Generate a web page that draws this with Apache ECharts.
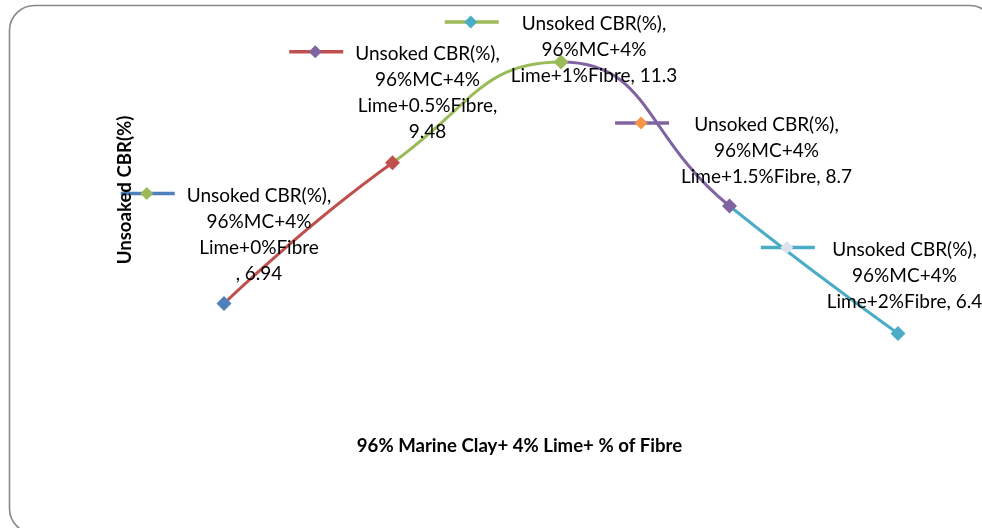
<!DOCTYPE html>
<html>
<head>
<meta charset="utf-8">
<script src="https://cdn.jsdelivr.net/npm/echarts@6/dist/echarts.min.js"></script>
<style>
  html, body { margin: 0; padding: 0; background: #ffffff; }
  #chart { width: 982px; height: 528px; }
</style>
</head>
<body>
<div id="chart"></div>
<script>
// Unsoaked CBR for marine clay + lime mixes with increasing fibre content
const seriesName = 'Unsoked CBR(%)';
const categories = [
  '96%MC+4% Lime+0%Fibre',
  '96%MC+4% Lime+0.5%Fibre',
  '96%MC+4% Lime+1%Fibre',
  '96%MC+4% Lime+1.5%Fibre',
  '96%MC+4% Lime+2%Fibre'
];
const cbrValues = [6.94, 9.48, 11.3, 8.7, 6.4];
const xTitle = '96% Marine Clay+ 4% Lime+ % of Fibre';
const yTitle = 'Unsoaked CBR(%)';

// point colours (Office palette) and the marker colour shown in each label key
const pointColors = ['#4F81BD', '#C0504D', '#9BBB59', '#8064A2', '#4BACC6'];
const keyMarkerColors = ['#9BBB59', '#8064A2', '#4BACC6', '#F79646', '#DDE3EE'];

// label layout: how the value line wraps, and block offset from its point
const labelWrap = ['commaNext', 'commaEnd', 'inline', 'inline', 'inline'];
const labelOffset = [[35, -108], [35, -109], [33, -38], [37, -81], [6.5, -84]];

const FONT_FAMILY = 'Lato, "Liberation Sans", sans-serif';
const LABEL_SIZE = 19;
const LINE_H = 26;

function labelLines(i) {
  const parts = categories[i].split(' ');
  const mc = parts[0], lime = parts[1];
  const v = String(cbrValues[i]);
  const lines = [seriesName + ',', mc];
  if (labelWrap[i] === 'commaNext') { lines.push(lime, ', ' + v); }
  else if (labelWrap[i] === 'commaEnd') { lines.push(lime + ',', v); }
  else { lines.push(lime + ', ' + v); }
  return lines;
}

const measureCtx = document.createElement('canvas').getContext('2d');
function textWidth(s) {
  measureCtx.font = LABEL_SIZE + 'px ' + FONT_FAMILY;
  return measureCtx.measureText(s).width;
}

const chart = echarts.init(document.getElementById('chart'), null, { renderer: 'canvas' });

const option = {
  backgroundColor: '#ffffff',
  animation: false,
  grid: { left: 224, right: 84, top: 23.2, bottom: 61.6 },
  xAxis: {
    type: 'category',
    data: categories,
    boundaryGap: false,
    show: false
  },
  yAxis: {
    type: 'value',
    min: 4,
    max: 12,
    show: false
  },
  visualMap: {
    show: false,
    type: 'piecewise',
    seriesIndex: 0,
    dimension: 0,
    pieces: [
      { lt: 1, color: pointColors[1] },
      { gte: 1, lt: 2, color: pointColors[2] },
      { gte: 2, lt: 3, color: pointColors[3] },
      { gte: 3, color: pointColors[4] }
    ]
  },
  series: [
    {
      name: seriesName,
      type: 'line',
      data: cbrValues,
      smooth: true,
      showSymbol: false,
      lineStyle: { width: 3 },
      z: 2
    },
    {
      type: 'scatter',
      data: cbrValues.map((v, i) => ({ value: [i, v], itemStyle: { color: pointColors[i], opacity: 1 } })),
      symbol: 'diamond',
      symbolSize: 15,
      z: 3
    },
    {
      type: 'custom',
      data: cbrValues.map((v, i) => [i, v]),
      encode: { x: 0, y: 1 },
      z: 4,
      renderItem: function (params, api) {
        const i = params.dataIndex;
        const pt = api.coord([api.value(0), api.value(1)]);
        const lines = labelLines(i);
        const cx = pt[0] + labelOffset[i][0];
        const firstY = pt[1] + labelOffset[i][1];
        const maxW = Math.max.apply(null, lines.map(textWidth));
        const keyRight = cx - maxW / 2 - 12;
        const keyLeft = keyRight - 54;
        const keyY = firstY - 2;
        return {
          type: 'group',
          children: [
            {
              type: 'line',
              shape: { x1: keyLeft, y1: keyY, x2: keyRight, y2: keyY },
              style: { stroke: pointColors[i], lineWidth: 3.5 }
            },
            {
              type: 'path',
              shape: {
                pathData: 'M' + (keyLeft + 26) + ' ' + (keyY - 6.5) +
                  ' L' + (keyLeft + 32.5) + ' ' + keyY +
                  ' L' + (keyLeft + 26) + ' ' + (keyY + 6.5) +
                  ' L' + (keyLeft + 19.5) + ' ' + keyY + ' Z'
              },
              style: { fill: keyMarkerColors[i] }
            },
            {
              type: 'text',
              style: {
                x: cx,
                y: firstY - LINE_H / 2,
                text: lines.join('\n'),
                align: 'center',
                verticalAlign: 'top',
                lineHeight: LINE_H,
                font: LABEL_SIZE + 'px ' + FONT_FAMILY,
                fill: '#000000'
              }
            }
          ]
        };
      }
    }
  ],
  graphic: [
    {
      type: 'rect',
      z: 0,
      silent: true,
      shape: { x: 9.5, y: 5.5, width: 985, height: 528, r: 25 },
      style: { fill: 'none', stroke: '#878787', lineWidth: 1.6 }
    },
    {
      type: 'text',
      z: 10,
      x: 519.5,
      y: 446,
      style: {
        text: xTitle,
        align: 'center',
        verticalAlign: 'middle',
        font: 'bold 18.6px ' + FONT_FAMILY,
        fill: '#000000'
      }
    },
    {
      type: 'text',
      z: 10,
      x: 125,
      y: 190,
      rotation: Math.PI / 2,
      style: {
        text: yTitle,
        align: 'center',
        verticalAlign: 'middle',
        font: 'bold 18.6px ' + FONT_FAMILY,
        fill: '#000000'
      }
    }
  ]
};

chart.setOption(option);
</script>
</body>
</html>
